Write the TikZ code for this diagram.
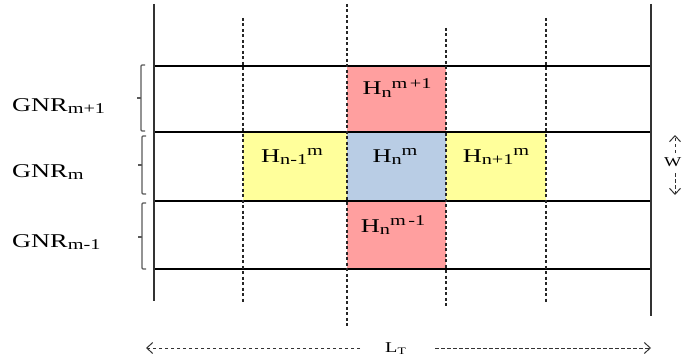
\documentclass[tikz,border=0pt]{standalone}
\usepackage{fontspec}
\setmainfont{Liberation Serif}[FakeStretch=1.35]
\usetikzlibrary{arrows.meta}
\definecolor{cellpink}{RGB}{255,159,159}
\definecolor{cellyellow}{RGB}{255,255,155}
\definecolor{cellblue}{RGB}{185,205,229}
\newcommand{\lowtxt}[1]{\raisebox{-0.3ex}{\fontsize{15}{15}\selectfont #1}}
\newcommand{\hightxt}[1]{\raisebox{0.75ex}{\fontsize{15}{15}\selectfont #1}}
\tikzset{
  solidv/.style={draw=black!80, line width=1.4pt},
  gridh/.style={draw=black, line width=1.1pt},
  dashv/.style={draw=black!85, line width=1.1pt, dash pattern=on 3pt off 2.5pt},
  brack/.style={draw=black!65, line width=1.1pt, rounded corners=1pt},
  biglabel/.style={inner sep=0pt, font=\fontsize{19.5}{20}\selectfont, anchor=base},
  gnrlabel/.style={inner sep=0pt, font=\fontsize{19.5}{20}\selectfont, anchor=base west},
  dimarrow/.style={draw=black!80, line width=1pt, dash pattern=on 3.5pt off 2.5pt, -{Straight Barb[length=6pt,width=11pt]}},
}
\begin{document}
\begin{tikzpicture}[x=1pt,y=-1pt]
\useasboundingbox (0,0) rectangle (683,361);
% cell fills
\fill[cellpink] (347,66) rectangle (446,132);
\fill[cellyellow] (243,132) rectangle (347,201);
\fill[cellblue] (347,132) rectangle (446,201);
\fill[cellyellow] (446,132) rectangle (546,201);
\fill[cellpink] (347,201) rectangle (446,269);
% horizontal lines
\foreach \yy in {66,132,201,269} \draw[gridh] (154,\yy) -- (651,\yy);
% solid verticals
\draw[solidv] (154,4) -- (154,301);
\draw[solidv] (651,4) -- (651,316);
% dashed verticals
\draw[dashv] (243,18) -- (243,302);
\draw[dashv] (347,4) -- (347,326);
\draw[dashv] (446,28) -- (446,308);
\draw[dashv] (546,18) -- (546,302);
% brackets
\draw[brack] (145,65) -- (141,65) -- (141,131) -- (145,131);
\draw[brack] (141,98) -- (137,98);
\draw[brack] (146,136) -- (142,136) -- (142,194) -- (146,194);
\draw[brack] (142,165) -- (138,165);
\draw[brack] (146,203) -- (142,203) -- (142,269) -- (146,269);
\draw[brack] (142,237) -- (138,237);
% GNR labels
\node[gnrlabel] (g1) at (12,111) {GNR\lowtxt{m+1}};
\node[gnrlabel] (g0) at (12,177) {GNR\lowtxt{m}};
\node[gnrlabel] (g2) at (12,247) {GNR\lowtxt{m-1}};
% H labels
\node[biglabel] (hup) at (397,95) {H\lowtxt{n}\hightxt{m\,+1}};
\node[biglabel] (hleft) at (292,162) {H\lowtxt{n-1}\hightxt{m}};
\node[biglabel] (hmid) at (395,162) {H\lowtxt{n}\hightxt{m}};
\node[biglabel] (hright) at (496,162) {H\lowtxt{n+1}\hightxt{m}};
\node[biglabel] (hdown) at (393,232) {H\lowtxt{n}\hightxt{m\,-1}};
% W dimension
\node[inner sep=0pt, anchor=base west, font=\fontsize{13.5}{14}\selectfont] (W) at (664,166) {W};
\coordinate (wtop) at (675,135);
\coordinate (wbot) at (675,195);
\coordinate (wa) at (675,153);
\coordinate (wb) at (675,173);
\draw[dimarrow] (wa) -- (wtop);
\draw[dimarrow] (wb) -- (wbot);
% L_T dimension
\node[inner sep=0pt, anchor=base west, font=\fontsize{15}{15}\selectfont] (LT) at (385,352) {L\raisebox{-0.3ex}{\fontsize{10}{10}\selectfont T}};
\coordinate (ltl) at (146,348);
\coordinate (ltr) at (651,348);
\coordinate (la) at (360,348);
\coordinate (ra) at (435,348);
\draw[dimarrow] (la) -- (ltl);
\draw[dimarrow] (ra) -- (ltr);
\end{tikzpicture}
\end{document}
